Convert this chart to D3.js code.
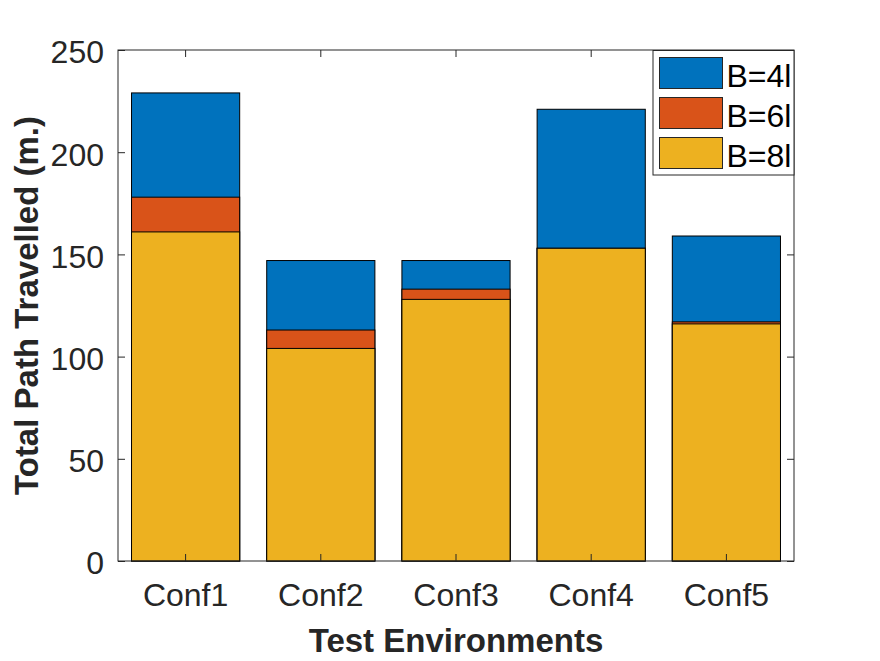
<!DOCTYPE html>
<html lang="en">
<head>
<meta charset="UTF-8">
<title>Total Path Travelled</title>
<script src="https://d3js.org/d3.v7.min.js"></script>
<style>
    body { margin: 0; background: #fff; }
    svg { font-family: "Liberation Sans", Arial, sans-serif; }
    .tick text { font-size: 32px; fill: #262626; }
    .axis-label { font-size: 33px; font-weight: bold; fill: #262626; }
</style>
</head>
<body>
<svg id="chart"></svg>
<script>
// data
var categories = ["Conf1", "Conf2", "Conf3", "Conf4", "Conf5"];
var seriesNames = ["B=4l", "B=6l", "B=8l"];
var b4 = [229, 147, 147, 221, 159];
var b6 = [178, 113, 133, 153, 117];
var b8 = [161, 104, 128, 153, 116];
var yTicks = [0, 50, 100, 150, 200, 250];
var colors = ["#0072BD", "#D95319", "#EDB120"];

var W = 880, H = 661;
var margin = { top: 50, right: 86, bottom: 100, left: 118 };
var width = W - margin.left - margin.right;
var height = H - margin.top - margin.bottom;

var svg = d3.select("#chart").attr("width", W).attr("height", H);
var g = svg.append("g").attr("transform", "translate(" + margin.left + "," + margin.top + ")");

var x = d3.scaleBand().domain(categories).range([0, width]).paddingInner(0.2).paddingOuter(0.1);
var y = d3.scaleLinear().domain([0, 250]).range([height, 0]);

// bars are overlaid, tallest series at the back
var series = [b4, b6, b8];
series.forEach(function(vals, i) {
    g.selectAll(".bar" + i)
        .data(vals)
        .enter().append("rect")
        .attr("x", (d, j) => x(categories[j]))
        .attr("width", x.bandwidth())
        .attr("y", d => y(d))
        .attr("height", d => height - y(d))
        .attr("fill", colors[i])
        .attr("stroke", "#000")
        .attr("stroke-width", 1);
});

// axes, ticks pointing inward like matlab
var tk = 7;
g.append("g")
    .attr("transform", "translate(0," + height + ")")
    .call(d3.axisBottom(x).tickSize(-tk).tickPadding(22))
    .call(a => a.select(".domain").remove());
g.append("g")
    .call(d3.axisTop(x).tickSize(-tk).tickFormat(""))
    .call(a => a.select(".domain").remove());
g.append("g")
    .call(d3.axisLeft(y).tickValues(yTicks).tickSize(-tk).tickPadding(14))
    .call(a => a.select(".domain").remove())
    .call(a => a.selectAll(".tick text").attr("dy", "0.4em"));
g.append("g")
    .attr("transform", "translate(" + width + ",0)")
    .call(d3.axisRight(y).tickValues(yTicks).tickSize(-tk).tickFormat(""))
    .call(a => a.select(".domain").remove());
g.selectAll(".tick line").attr("stroke", "#262626");

g.append("rect")
    .attr("x", 0).attr("y", 0)
    .attr("width", width).attr("height", height)
    .attr("fill", "none")
    .attr("stroke", "#262626")
    .attr("stroke-width", 1);

// axis titles
svg.append("text")
    .attr("class", "axis-label")
    .attr("x", margin.left + width / 2)
    .attr("y", 652)
    .attr("text-anchor", "middle")
    .text("Test Environments");
svg.append("text")
    .attr("class", "axis-label")
    .attr("transform", "translate(38," + (margin.top + height / 2) + ") rotate(-90)")
    .attr("text-anchor", "middle")
    .text("Total Path Travelled (m.)");

// legend
var lg = svg.append("g").attr("transform", "translate(653,50.5)");
lg.append("rect")
    .attr("width", 141).attr("height", 124.5)
    .attr("fill", "#fff").attr("stroke", "#262626").attr("stroke-width", 1);
seriesNames.forEach(function(name, i) {
    var row = lg.append("g").attr("transform", "translate(6.5," + (7 + i * 40) + ")");
    row.append("rect")
        .attr("width", 63).attr("height", 31)
        .attr("fill", colors[i]).attr("stroke", "#262626").attr("stroke-width", 1);
    row.append("text")
        .attr("x", 67).attr("y", 29)
        .attr("font-size", 32).attr("fill", "#000")
        .text(name);
});
</script>
</body>
</html>
